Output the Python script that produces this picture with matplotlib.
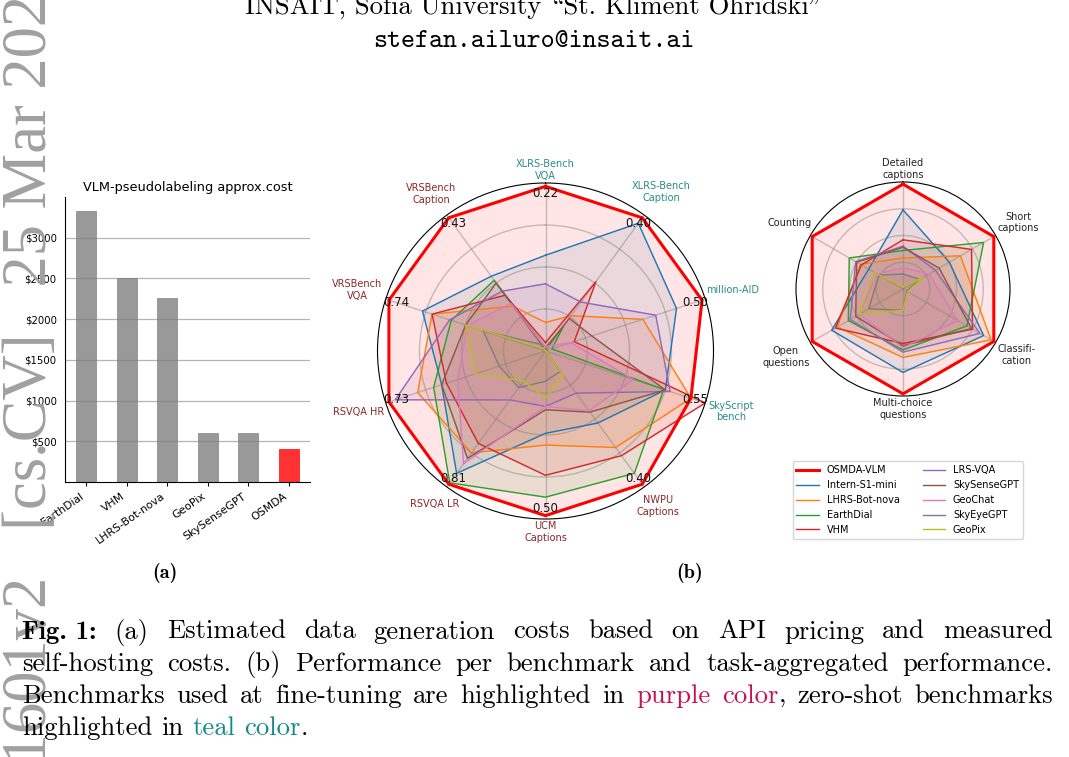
import numpy as np
import matplotlib
matplotlib.use('Agg')
import matplotlib.pyplot as plt

W, H = 1069, 757

# (a) pseudolabeling cost
cost_models = ['EarthDial', 'VHM', 'LHRS-Bot-nova', 'GeoPix', 'SkySenseGPT', 'OSMDA']
cost_usd = [3330, 2500, 2265, 600, 600, 400]
cost_ticks = [500, 1000, 1500, 2000, 2500, 3000]

# (b) per-benchmark radar
bench_names = ['XLRS-Bench\nVQA', 'XLRS-Bench\nCaption', 'million-AID', 'SkyScript\nbench',
               'NWPU\nCaptions', 'UCM\nCaptions', 'RSVQA LR', 'RSVQA HR',
               'VRSBench\nVQA', 'VRSBench\nCaption']
bench_best = ['0.22', '0.40', '0.50', '0.55', '0.40', '0.50', '0.81', '0.73', '0.74', '0.43']
bench_zero_shot = [True, True, True, True, False, False, False, False, False, False]

# (b) task-aggregated radar
task_names = ['Detailed\ncaptions', 'Short\ncaptions', 'Classifi-\ncation',
              'Multi-choice\nquestions', 'Open\nquestions', 'Counting']

model_names = ['OSMDA-VLM', 'Intern-S1-mini', 'LHRS-Bot-nova', 'EarthDial', 'VHM',
               'LRS-VQA', 'SkySenseGPT', 'GeoChat', 'SkyEyeGPT', 'GeoPix']
model_colors = ['red', '#1f77b4', '#ff7f0e', '#2ca02c', '#d62728',
                '#9467bd', '#8c564b', '#e377c2', '#7f7f7f', '#bcbd22']

# scores normalised so that 1 = outer ring
bench_osmda = [0.98, 0.98, 0.98, 0.91, 0.98, 0.98, 0.98, 0.98, 0.98, 0.98]
bench_intern = [0.57, 0.94, 0.82, 0.75, 0.53, 0.49, 0.90, 0.65, 0.77, 0.55]
bench_lhrs = [0.17, 0.26, 0.61, 0.91, 0.71, 0.56, 0.75, 0.80, 0.71, 0.33]
bench_earthdial = [0.02, 0.18, 0.04, 0.74, 0.90, 0.87, 0.97, 0.70, 0.59, 0.52]
bench_vhm = [0.05, 0.51, 0.18, 1.00, 0.77, 0.74, 0.68, 0.62, 0.71, 0.41]
bench_lrsvqa = [0.40, 0.36, 0.69, 0.78, 0.31, 0.33, 0.36, 0.94, 0.60, 0.44]
bench_skysense = [0.01, 0.24, 0.29, 0.75, 0.45, 0.35, 0.79, 0.65, 0.50, 0.50]
bench_geochat = [0.02, 0.04, 0.16, 0.55, 0.44, 0.33, 0.83, 0.55, 0.49, 0.35]
bench_skyeye = [0.00, 0.00, 0.00, 0.00, 0.15, 0.18, 0.27, 0.29, 0.39, 0.05]
bench_geopix = [0.00, 0.00, 0.00, 0.00, 0.18, 0.28, 0.22, 0.44, 0.50, 0.02]

task_osmda = [0.98, 0.98, 0.98, 0.98, 0.98, 0.98]
task_intern = [0.74, 0.50, 0.87, 0.78, 0.77, 0.37]
task_lhrs = [0.29, 0.62, 0.95, 0.64, 0.71, 0.46]
task_earthdial = [0.36, 0.87, 0.69, 0.57, 0.59, 0.58]
task_vhm = [0.46, 0.74, 0.75, 0.51, 0.73, 0.45]
task_lrsvqa = [0.40, 0.35, 0.83, 0.59, 0.57, 0.51]
task_skysense = [0.39, 0.39, 0.74, 0.53, 0.51, 0.50]
task_geochat = [0.20, 0.28, 0.59, 0.55, 0.47, 0.28]
task_skyeye = [0.14, 0.18, 0.04, 0.20, 0.37, 0.26]
task_geopix = [0.02, 0.22, 0.05, 0.20, 0.47, 0.31]

bench_scores = [bench_osmda, bench_intern, bench_lhrs, bench_earthdial, bench_vhm,
                bench_lrsvqa, bench_skysense, bench_geochat, bench_skyeye, bench_geopix]
task_scores = [task_osmda, task_intern, task_lhrs, task_earthdial, task_vhm,
               task_lrsvqa, task_skysense, task_geochat, task_skyeye, task_geopix]

caption = [
    [('Fig.\u00a01:', 'bf'), (' (a) Estimated data generation costs based on API pricing and measured', 'rm')],
    [('self-hosting costs. (b) Performance per benchmark and task-aggregated performance.', 'rm')],
    [('Benchmarks used at fine-tuning are highlighted in ', 'rm'), ('purple color', 'pu'),
     (', zero-shot benchmarks', 'rm')],
    [('highlighted in ', 'rm'), ('teal color', 'te'), ('.', 'rm')],
]

TEAL = '#2a8a8a'
DRED = '#8b2626'


def fx(px):
    return px / W


def fy(py):
    return 1 - py / H


fig = plt.figure(figsize=(W / 100, H / 100), dpi=100)
renderer = fig.canvas.get_renderer()

# arXiv stamp
fig.text(fx(46), fy(-36), 'arXiv:2503.21601v2   [cs.CV]   25 Mar 2025', rotation=90,
         rotation_mode='anchor', ha='right', va='baseline', fontsize=45,
         color='#a0a0a0', family='Liberation Serif')

# header (cmr10 keeps TeX quote glyphs at their OT1 slots)
fig.text(fx(534), fy(14), 'INSAIT, Sofia University \\St. Kliment Ohridski"',
         family='cmr10', fontsize=19.2, ha='center', va='baseline')
fig.text(fx(534), fy(47), 'stefan.ailuro@insait.ai', family='cmtt10', fontsize=19.2,
         ha='center', va='baseline')

# ---- (a) bars
axa = fig.add_axes([fx(65), fy(482), (310 - 65) / W, (482 - 197) / H])
xs = np.arange(len(cost_models))
bar_cols = ['gray'] * (len(cost_models) - 1) + ['red']
axa.bar(xs, cost_usd, width=0.5, color=bar_cols, alpha=0.8, edgecolor=bar_cols, linewidth=0.6)
axa.set_ylim(0, 3500)
axa.set_yticks(cost_ticks)
axa.set_yticklabels(['$%d' % v for v in cost_ticks], fontsize=7.3)
axa.set_xticks(xs)
axa.set_xticklabels(cost_models, rotation=35, ha='right', fontsize=7.8)
axa.spines[['top', 'right']].set_visible(False)
axa.yaxis.grid(True, color='#b5b5b5', lw=0.9)
axa.set_axisbelow(True)
axa.tick_params(axis='y', length=0, pad=6)
axa.tick_params(axis='x', length=3)
axa.set_title('VLM-pseudolabeling approx.cost', fontsize=9.3, pad=4)


def radar(cx, cy, R, names, scores, label_cols):
    ax = fig.add_axes([fx(cx - R), fy(cy + R), 2 * R / W, 2 * R / H], projection='polar')
    ax.set_theta_offset(np.pi / 2)
    ax.set_theta_direction(-1)
    ang = np.linspace(0, 2 * np.pi, len(names), endpoint=False)
    loop = np.append(ang, ang[0])
    lines = {}
    order = list(range(1, len(model_names))) + [0]
    for i in order:
        vals = np.append(scores[i], scores[i][0])
        lw = 2.2 if i == 0 else 1.0
        ln, = ax.plot(loop, vals, color=model_colors[i], lw=lw, zorder=3 if i == 0 else 2)
        ax.fill(loop, vals, color=model_colors[i], alpha=0.1)
        lines[i] = ln
    ax.set_ylim(0, 1)
    ax.set_yticks([0.25, 0.5, 0.75])
    ax.set_yticklabels([])
    ax.set_xticks(ang)
    ax.set_xticklabels([])
    ax.grid(color='gray', alpha=0.45, lw=1)
    ax.spines['polar'].set_linewidth(0.8)
    # category labels just outside the ring
    for a, name, col in zip(ang, names, label_cols):
        t = ax.text(a, 1, name, ha='center', va='center', fontsize=7, color=col,
                    multialignment='center')
        bb = t.get_window_extent(renderer)
        th = np.pi / 2 - a
        sup = abs(np.cos(th)) * bb.width / 2 + abs(np.sin(th)) * bb.height / 2
        t.set_position((a, 1 + (2.5 + sup) / R))
    return ax, ang, lines


ax1, ang1, _ = radar(545.5, 351, 168, bench_names, bench_scores,
                     [TEAL if z else DRED for z in bench_zero_shot])
for a, s in zip(ang1, bench_best):
    ax1.text(a, 0.935, s, ha='center', va='center', fontsize=8.5, color='#111111', zorder=6)

ax2, ang2, lines2 = radar(903, 289, 107, task_names, task_scores, ['#222222'] * len(task_names))

fig.legend([lines2[i] for i in range(len(model_names))], model_names, loc='upper left',
           bbox_to_anchor=(fx(792.5), fy(461.5)), ncol=2, fontsize=7, borderaxespad=0,
           labelspacing=0.5, handlelength=2.3, columnspacing=2.4)

# sub-captions
fig.text(fx(165), fy(578), '(a)', family='cmb10', fontsize=14.5, ha='center', va='baseline')
fig.text(fx(690), fy(578), '(b)', family='cmb10', fontsize=14.5, ha='center', va='baseline')

# caption, justified like the paper
styles = {'rm': ('cmr10', 'black'), 'bf': ('cmb10', 'black'),
          'pu': ('cmr10', '#c4124f'), 'te': ('cmr10', '#138a8a')}
CAP_FS = 19.2
X0, X1 = 22, 1053


def tokenize(segs):
    words = []
    new_word = True
    for text, st in segs:
        for i, p in enumerate(text.split(' ')):
            if i > 0:
                new_word = True
            if p == '':
                continue
            if new_word or not words:
                words.append([(p.replace('\u00a0', ' '), st)])
                new_word = False
            else:
                words[-1].append((p.replace('\u00a0', ' '), st))
    return words


probe1 = fig.text(0, 0, 'a a', family='cmr10', fontsize=CAP_FS)
probe2 = fig.text(0, 0, 'aa', family='cmr10', fontsize=CAP_FS)
space_px = probe1.get_window_extent(renderer).width - probe2.get_window_extent(renderer).width
probe1.remove()
probe2.remove()

for k, segs in enumerate(caption):
    base = 638.5 + 32.3 * k
    words = tokenize(segs)
    placed = []
    total = 0
    for w in words:
        parts = []
        for s, st in w:
            fam, col = styles[st]
            t = fig.text(0, fy(base), s, family=fam, color=col, fontsize=CAP_FS,
                         ha='left', va='baseline')
            parts.append((t, t.get_window_extent(renderer).width))
        placed.append(parts)
        total += sum(p[1] for p in parts)
    last = k == len(caption) - 1
    gap = space_px if last else (X1 - X0 - total) / (len(words) - 1)
    x = X0
    for parts in placed:
        for t, wd in parts:
            t.set_x(fx(x))
            x += wd
        x += gap

fig.savefig('out.png', dpi=100)
